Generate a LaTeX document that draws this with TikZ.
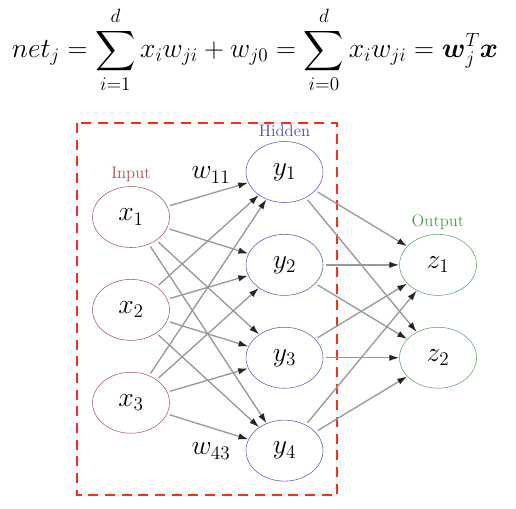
\documentclass[tikz,border=0pt]{standalone}
\usepackage{amsmath}
\usepackage{amssymb}
\usepackage{xcolor}
\usepackage{tikz}
\usetikzlibrary{shapes.geometric, arrows.meta, positioning}

\begin{document}
\begin{tikzpicture}[
        x=0.75pt, y=-0.75pt,
        node distance=23.5pt and 57pt,
        neuron/.style={
            ellipse,
            draw,
            fill=white,
            inner sep=0pt,
            minimum width=57.75pt,
            minimum height=45.75pt,
            font=\fontsize{21}{25}\selectfont
        },
        inputnode/.style={neuron, draw=red!30!gray},
        hiddennode/.style={neuron, draw=blue!30!gray},
        outputnode/.style={neuron, draw=green!25!gray},
        layername/.style={font=\fontsize{12.5}{14}\selectfont},
        weight/.style={font=\fontsize{21.5}{25}\selectfont},
        arrow/.style={-{Latex[length=7.5pt,width=4.8pt,color=black!85]}, draw=gray!80, line width=1pt, shorten <=2pt}
    ]

    \useasboundingbox (0,0) rectangle (516,508);

    \node (eq) at (255,50) {\fontsize{21}{25}\selectfont
        $\displaystyle net_j=\sum_{i=1}^{d}x_iw_{ji}+w_{j0}=\sum_{i=0}^{d}x_iw_{ji}=\boldsymbol{w}_j^T\boldsymbol{x}$};

    \draw [red!85!orange!90!white, line width=2pt, dash pattern=on 7.5pt off 5pt] (77,123) rectangle (337,495);

    \node (y1) [hiddennode] at (284.5,172) {$y_1$};
    \node (y2) [hiddennode, below=of y1] {$y_2$};
    \node (y3) [hiddennode, below=of y2] {$y_3$};
    \node (y4) [hiddennode, below=of y3] {$y_4$};

    \node (x1) [inputnode] at (131,217) {$x_1$};
    \node (x2) [inputnode, below=of x1] {$x_2$};
    \node (x3) [inputnode, below=of x2] {$x_3$};

    \node (z1) [outputnode, right=of y2] {$z_1$};
    \node (z2) [outputnode, right=of y3] {$z_2$};

    \node (input) [layername, text=red!35!gray, above=0pt of x1] {Input};
    \node (hidden) [layername, text=blue!40!gray, above=0pt of y1] {Hidden};
    \node (output) [layername, text=green!35!gray!90!black, above=0pt of z1] {Output};

    \node (w11) [weight] at (211,175) {$w_{11}$};
    \node (w43) [weight] at (211,451) {$w_{43}$};

    \draw [arrow] (x1) -- (y1);
    \draw [arrow] (x1) -- (y2);
    \draw [arrow] (x1) -- (y3);
    \draw [arrow] (x1) -- (y4);
    \draw [arrow] (x2) -- (y1);
    \draw [arrow] (x2) -- (y2);
    \draw [arrow] (x2) -- (y3);
    \draw [arrow] (x2) -- (y4);
    \draw [arrow] (x3) -- (y1);
    \draw [arrow] (x3) -- (y2);
    \draw [arrow] (x3) -- (y3);
    \draw [arrow] (x3) -- (y4);

    \draw [arrow] (y1) -- (z1);
    \draw [arrow] (y1) -- (z2);
    \draw [arrow] (y2) -- (z1);
    \draw [arrow] (y2) -- (z2);
    \draw [arrow] (y3) -- (z1);
    \draw [arrow] (y3) -- (z2);
    \draw [arrow] (y4) -- (z1);
    \draw [arrow] (y4) -- (z2);

\end{tikzpicture}
\end{document}
